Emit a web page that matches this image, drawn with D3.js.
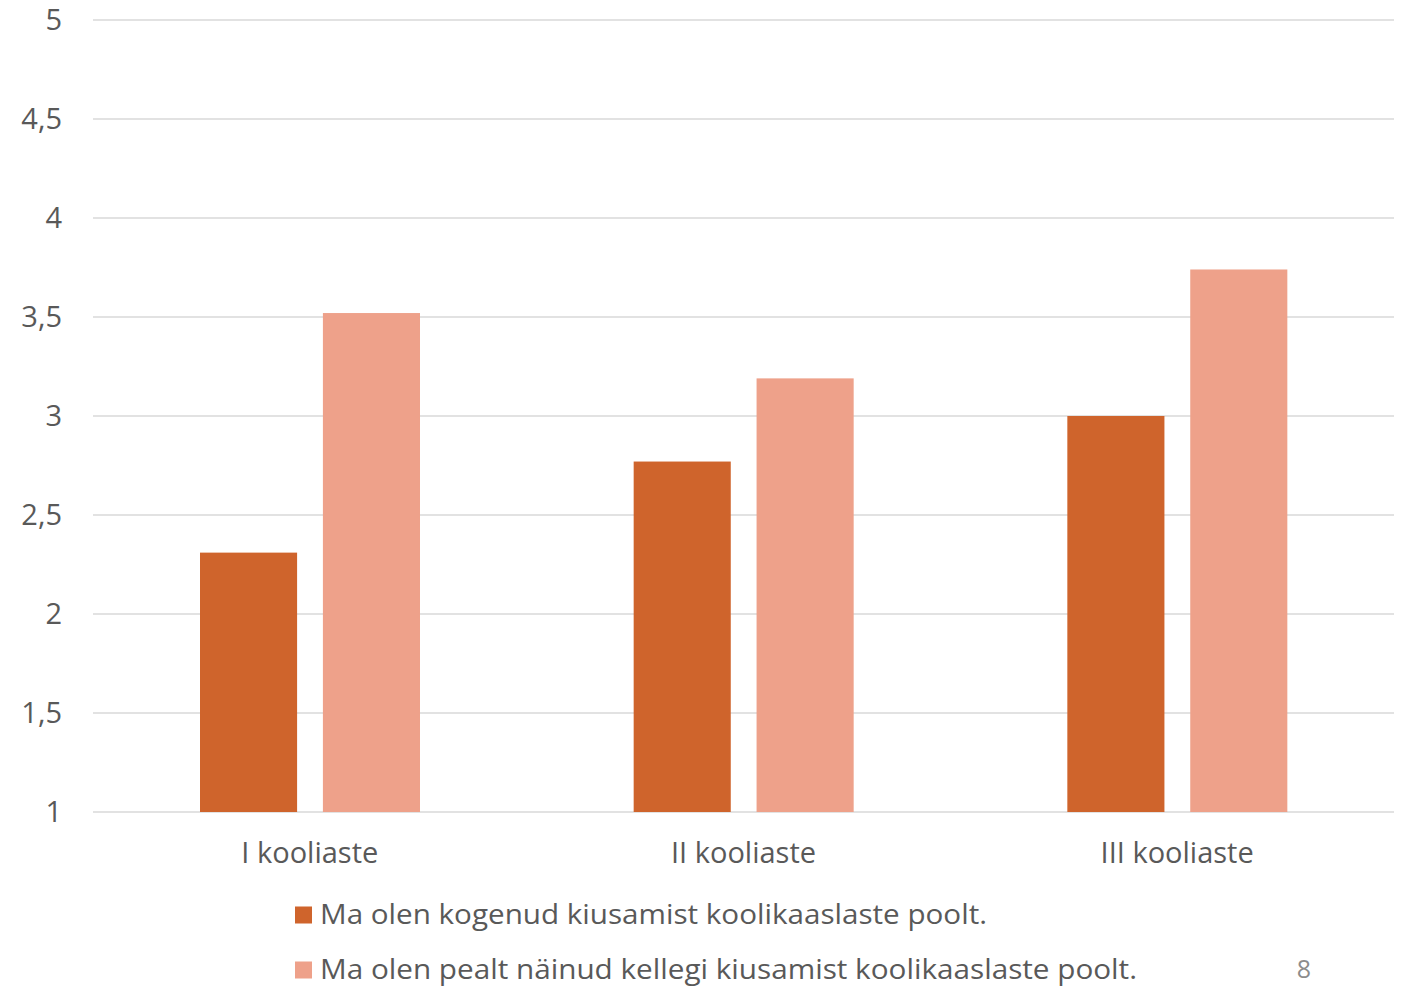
<!DOCTYPE html>
<html>
<head>
<meta charset="utf-8">
<script src="https://cdn.jsdelivr.net/npm/d3@7"></script>
<style>
  body { margin: 0; background: #fff; }
  text { font-family: "Open Sans", "Noto Sans", sans-serif; }
</style>
</head>
<body>
<svg id="chart"></svg>
<script>
// data
const categories = ['I kooliaste', 'II kooliaste', 'III kooliaste'];
const seriesNames = [
  'Ma olen kogenud kiusamist koolikaaslaste poolt.',
  'Ma olen pealt näinud kellegi kiusamist koolikaaslaste poolt.'
];
const experienced = [2.31, 2.77, 3.0];
const witnessed = [3.52, 3.19, 3.74];
const yTicks = [1, 1.5, 2, 2.5, 3, 3.5, 4, 4.5, 5];
const pageNumber = '8';

const width = 1407;
const height = 986;
const colors = ['#CF642C', '#EEA18A'];

const svg = d3.select('#chart')
  .attr('width', width)
  .attr('height', height);

const x0 = d3.scaleBand()
  .domain(categories)
  .range([93, 1394])
  .paddingInner(0)
  .paddingOuter(0);

const x1 = d3.scaleBand()
  .domain([0, 1])
  .range([107, 327])
  .paddingInner(0.21);

const y = d3.scaleLinear()
  .domain([1, 5])
  .range([812, 20]);

// gridlines
svg.append('g')
  .selectAll('line')
  .data(yTicks)
  .enter()
  .append('line')
  .attr('x1', 93)
  .attr('x2', 1394)
  .attr('y1', d => y(d))
  .attr('y2', d => y(d))
  .attr('stroke', '#d9d9d9')
  .attr('stroke-width', 1.5);

// y tick labels
const fmt = d => String(d).replace('.', ',');
svg.append('g')
  .selectAll('text')
  .data(yTicks)
  .enter()
  .append('text')
  .attr('x', 62)
  .attr('y', d => y(d))
  .attr('dy', '0.35em')
  .attr('text-anchor', 'end')
  .attr('font-size', 29)
  .attr('fill', '#595959')
  .text(fmt);

// bars
const rows = categories.map((c, i) => ({ cat: c, vals: [experienced[i], witnessed[i]] }));
const groups = svg.append('g')
  .selectAll('g')
  .data(rows)
  .enter()
  .append('g')
  .attr('transform', d => `translate(${x0(d.cat)},0)`);

groups.selectAll('rect')
  .data(d => d.vals.map((v, k) => ({ k, v })))
  .enter()
  .append('rect')
  .attr('x', d => x1(d.k))
  .attr('width', x1.bandwidth())
  .attr('y', d => y(d.v))
  .attr('height', d => y(1) - y(d.v))
  .attr('fill', d => colors[d.k]);

// category labels
svg.append('g')
  .selectAll('text')
  .data(categories)
  .enter()
  .append('text')
  .attr('x', d => x0(d) + x0.bandwidth() / 2)
  .attr('y', 853)
  .attr('dy', '0.35em')
  .attr('text-anchor', 'middle')
  .attr('font-size', 29)
  .attr('fill', '#595959')
  .text(d => d);

// legend
const legendWidths = [667, 817];
const legend = svg.append('g')
  .selectAll('g')
  .data(seriesNames)
  .enter()
  .append('g')
  .attr('transform', (d, i) => `translate(295,${915 + i * 55})`);

legend.append('rect')
  .attr('x', 0)
  .attr('y', -8.5)
  .attr('width', 17)
  .attr('height', 17)
  .attr('fill', (d, i) => colors[i]);

legend.append('text')
  .attr('x', 25)
  .attr('y', 0)
  .attr('dy', '0.35em')
  .attr('font-size', 27)
  .attr('fill', '#595959')
  .attr('textLength', (d, i) => legendWidths[i])
  .attr('lengthAdjust', 'spacingAndGlyphs')
  .text(d => d);

svg.append('text')
  .attr('x', 1304)
  .attr('y', 969)
  .attr('dy', '0.35em')
  .attr('text-anchor', 'middle')
  .attr('font-size', 25)
  .attr('fill', '#8c8c8c')
  .text(pageNumber);
</script>
</body>
</html>
